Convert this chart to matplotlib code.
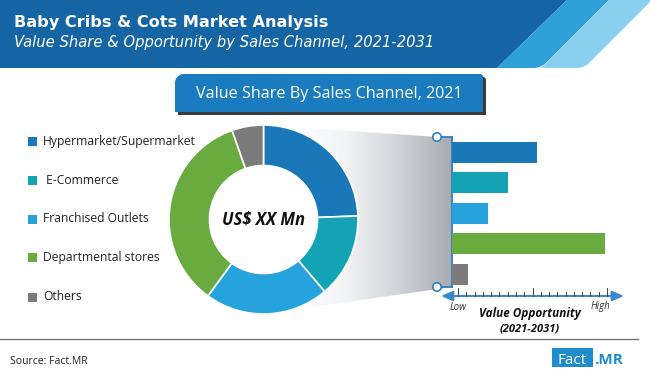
import numpy as np
import matplotlib
matplotlib.use("Agg")
import matplotlib.pyplot as plt
from matplotlib.patches import Polygon, Rectangle, Circle
from matplotlib.colors import LinearSegmentedColormap

# ---------------- data ----------------
channels = ["Hypermarket/Supermarket", "E-Commerce", "Franchised Outlets",
            "Departmental stores", "Others"]
value_share_2021 = [24.4, 14.4, 21.2, 34.6, 5.4]          # % share (donut)
value_opportunity = [5.5, 3.6, 2.3, 9.9, 1.0]             # relative, 0 (Low) .. 10 (High)
colors = ["#1a78b9", "#14a3b4", "#26a3dd", "#6aab40", "#7b7b7b"]

title = "Baby Cribs & Cots Market Analysis"
subtitle = "Value Share & Opportunity by Sales Channel, 2021-2031"
box_title = "Value Share By Sales Channel, 2021"
center_label = "US$ XX Mn"

W, H = 650, 373
fig = plt.figure(figsize=(W / 100, H / 100), dpi=100)
fig.patch.set_facecolor("white")

bg = fig.add_axes([0, 0, 1, 1])
bg.set_xlim(0, W)
bg.set_ylim(H, 0)
bg.axis("off")
bg.set_zorder(0)


def px_axes(x0, y0, x1, y1):
    return fig.add_axes([x0 / W, 1 - y1 / H, (x1 - x0) / W, (y1 - y0) / H])


def rounded_poly(pts, rad, n=8):
    """Polygon with the given corners rounded (rad per corner)."""
    out = []
    m = len(pts)
    for i in range(m):
        p = np.array(pts[i], float)
        r = rad[i]
        if r <= 0:
            out.append(tuple(p))
            continue
        a = np.array(pts[i - 1], float)
        b = np.array(pts[(i + 1) % m], float)
        da = (a - p) / np.linalg.norm(a - p)
        db = (b - p) / np.linalg.norm(b - p)
        p1 = p + da * r
        p2 = p + db * r
        for s in np.linspace(0, 1, n):
            q = (1 - s) ** 2 * p1 + 2 * (1 - s) * s * p + s ** 2 * p2
            out.append(tuple(q))
    return out


# ---------------- header ----------------
bg.add_patch(Polygon([(0, 0), (567, 0), (497, 68), (0, 68)], closed=True,
                     fc="#1565a5", ec="none"))
bg.add_patch(Polygon(rounded_poly([(567, 0), (609, 0), (541, 68), (497, 68)],
                                  [0, 0, 8, 0]), closed=True,
                     fc="#2f9fd7", ec="none"))
bg.add_patch(Polygon(rounded_poly([(609, 0), (652, 0), (584, 68), (541, 68)],
                                  [0, 0, 8, 0]), closed=True,
                     fc="#88d0ee", ec="none"))
bg.text(14, 23, title, color="white", fontsize=11.6, fontweight="bold",
        family="DejaVu Sans", va="center", ha="left")
bg.text(14, 43, subtitle, color="white", fontsize=10.6, style="italic",
        family="DejaVu Sans", va="center", ha="left")

# ---------------- section box ----------------
bx0, by0, bx1, by1, r = 175, 74, 483, 112, 9
t = np.linspace(np.pi, np.pi / 2, 12)
corner = [(bx0 + r + r * np.cos(a), by0 + r - r * np.sin(a)) for a in t]
box_pts = corner + [(bx1 - 2, by0), (bx1, by0 + 2), (bx1, by1), (bx0, by1)]
shadow_pts = [(x + 3, y + 3) for x, y in box_pts]
bg.add_patch(Polygon(shadow_pts, closed=True, fc="#3c3c3c", ec="none"))
bg.add_patch(Polygon(box_pts, closed=True, fc="#1a7bbf", ec="none"))
bg.text((bx0 + bx1) / 2, (by0 + by1) / 2 + 1, box_title, color="white",
        fontsize=11.6, family="Open Sans", va="center", ha="center")

# ---------------- legend ----------------
leg_y = [141, 180, 219, 257, 297]
for name, c, y in zip(channels, colors, leg_y):
    bg.add_patch(Rectangle((28, y - 4.5), 9, 9, fc=c, ec="none"))
    label = (" " + name) if name == "E-Commerce" else name
    bg.text(43, y, label, fontsize=8.7, family="Open Sans", color="#222222",
            va="center", ha="left")

# ---------------- funnel gradient ----------------
funnel = Polygon([(263, 125), (452, 138), (452, 287), (263, 314)], closed=True,
                 fc="none", ec="none")
bg.add_patch(funnel)
grad = np.linspace(0, 1, 256).reshape(1, -1)
cmap = LinearSegmentedColormap.from_list("g", ["#ffffff", "#f1f3f5", "#cfd3d7", "#a8acb1"])
im = bg.imshow(grad, cmap=cmap, extent=(295, 452, 320, 120), aspect="auto",
               interpolation="bilinear", zorder=1)
im.set_clip_path(funnel)
bg.set_xlim(0, W)
bg.set_ylim(H, 0)

# connector line + circles
blue_line = "#2f7fc0"
bg.plot([452, 452], [137, 287], color=blue_line, lw=1.3, zorder=3)
for yy in (137, 287):
    bg.plot([441, 452], [yy, yy], color=blue_line, lw=1.3, zorder=3)
    bg.add_patch(Circle((437, yy), 4.2, fc="white", ec=blue_line, lw=1.2, zorder=4))

# ---------------- donut ----------------
cx, cy, R, r_in = 263.5, 219.5, 94.5, 54
dax = px_axes(cx - 95, cy - 95, cx + 95, cy + 95)
dax.set_zorder(2)
dax.patch.set_alpha(0)
dax.add_patch(Circle((0, 0), r_in / 95, fc="white", ec="none", zorder=0))
dax.pie(value_share_2021, colors=colors, startangle=90, counterclock=False,
        radius=R / 95, wedgeprops=dict(width=(R - r_in) / 95, edgecolor="white",
                                       linewidth=1.2))
dax.set_xlim(-1, 1)
dax.set_ylim(-1, 1)
dax.set_aspect("equal")
dax.axis("off")
dax.text(0, 0, center_label, fontsize=12, fontweight="bold", style="italic",
         family="Open Sans", ha="center", va="center", color="#111111")

# ---------------- opportunity bars ----------------
bax = px_axes(452, 137, 607, 289.5)
bax.set_zorder(3)
bax.patch.set_alpha(0)
bax.barh(range(len(channels)), value_opportunity, height=0.69, color=colors,
         left=0)
bax.set_xlim(0, 10)
bax.set_ylim(len(channels) - 0.5, -0.5)
bax.axis("off")

# axis with arrows and ticks
ax_col = "#3a88c9"
bg.annotate("", xy=(624, 296), xytext=(441, 296),
            arrowprops=dict(arrowstyle="<|-|>,head_length=0.7,head_width=0.3",
                            color=ax_col, lw=1.5, shrinkA=0, shrinkB=0,
                            mutation_scale=10), zorder=3)
ticks = np.linspace(458, 607, 19)
for i, tx in enumerate(ticks):
    top = 288 if i in (0, 9, 18) else 291.5
    bg.plot([tx, tx], [top, 296], color="#444444", lw=0.7, zorder=3)
bg.text(458, 308, "Low", fontsize=7, style="italic", family="Open Sans",
        color="#333333", ha="center", va="center")
bg.text(600, 307, "High", fontsize=7, style="italic", family="Open Sans",
        color="#333333", ha="center", va="center")
bg.text(530, 314, "Value Opportunity", fontsize=8.5, fontweight="bold",
        style="italic", family="Open Sans", color="#111111", ha="center",
        va="center")
bg.text(530, 329, "(2021-2031)", fontsize=8, fontweight="bold", style="italic",
        family="Open Sans", color="#111111", ha="center", va="center")

# ---------------- footer ----------------
bg.plot([0, 638], [339, 339], color="#6a6a6a", lw=0.9)
bg.text(10, 361, "Source: Fact.MR", fontsize=7.5, family="Open Sans",
        color="#222222", ha="left", va="center")
bg.add_patch(Rectangle((552, 348), 41, 19, fc="#1f8dcc", ec="none"))
bg.text(572.5, 363.5, "Fact", fontsize=11, family="Open Sans", color="white",
        ha="center", va="baseline")
bg.text(594, 363.5, ".MR", fontsize=11, fontweight="bold", family="Open Sans",
        color="#1f8dcc", ha="left", va="baseline")

fig.savefig("out.png", dpi=100)
